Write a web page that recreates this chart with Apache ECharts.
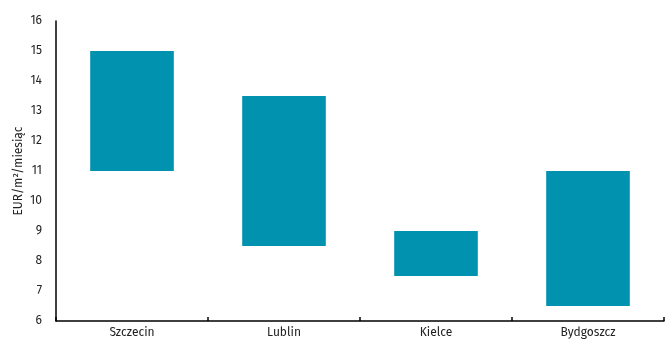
<!DOCTYPE html>
<html>
<head>
<meta charset="utf-8">
<script src="https://cdn.jsdelivr.net/npm/echarts@6/dist/echarts.min.js"></script>
<style>
  html, body { margin: 0; padding: 0; background: #fff; }
  #chart { width: 669px; height: 340px; }
</style>
</head>
<body>
<div id="chart"></div>
<script>
// Rent ranges by city (EUR/m²/month)
const cities = ['Szczecin', 'Lublin', 'Kielce', 'Bydgoszcz'];
const rentLow = [11, 8.5, 7.5, 6.5];
const rentHigh = [15, 13.5, 9, 11];
const yTicks = [6, 7, 8, 9, 10, 11, 12, 13, 14, 15, 16];

const chart = echarts.init(document.getElementById('chart'));
const textColor = '#222';
const fontFamily = '"Fira Sans", "Open Sans", "Noto Sans", sans-serif';

chart.setOption({
  animation: false,
  grid: { left: 56, right: 5, top: 21, bottom: 19 },
  xAxis: {
    type: 'category',
    data: cities,
    axisLine: { lineStyle: { color: '#000', width: 1.5 } },
    axisTick: { show: true, inside: true, length: 4, lineStyle: { color: '#000', width: 1.5 } },
    axisLabel: { color: textColor, fontSize: 12, fontFamily: fontFamily, margin: 6 },
    splitLine: { show: false }
  },
  yAxis: {
    type: 'value',
    min: yTicks[0],
    max: yTicks[yTicks.length - 1],
    interval: 1,
    name: 'EUR/m²/miesiąc',
    nameLocation: 'middle',
    nameGap: 31,
    nameRotate: 90,
    nameMoveOverlap: false,
    nameTextStyle: { color: textColor, fontSize: 12, fontFamily: fontFamily },
    axisLine: { show: true, lineStyle: { color: '#000', width: 1.5 } },
    axisTick: { show: false },
    axisLabel: { color: textColor, fontSize: 12, fontFamily: fontFamily, margin: 14 },
    splitLine: { show: false }
  },
  series: [
    {
      type: 'bar',
      stack: 'range',
      data: rentLow,
      itemStyle: { color: 'transparent' },
      barWidth: '55%',
      silent: true
    },
    {
      type: 'bar',
      stack: 'range',
      data: rentHigh.map((h, i) => h - rentLow[i]),
      itemStyle: { color: '#0092AF' },
      barWidth: '55%'
    }
  ]
});
</script>
</body>
</html>
